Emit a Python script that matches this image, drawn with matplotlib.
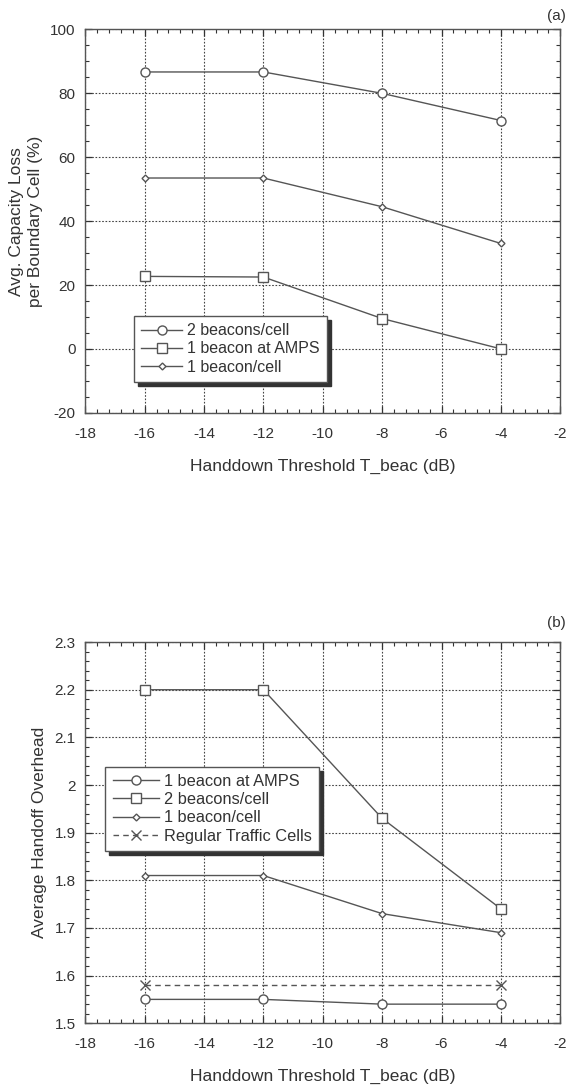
import matplotlib.pyplot as plt
from matplotlib.ticker import MultipleLocator, AutoMinorLocator

plt.rcParams['font.family'] = ['Liberation Sans', 'DejaVu Sans']
plt.rcParams['axes.unicode_minus'] = False

# x values shared by both panels (dB)
thresh = [-16, -12, -8, -4]

# panel (a): avg capacity loss per boundary cell (%)
a_two_beacons = [86.7, 86.7, 80.0, 71.5]
a_amps = [22.7, 22.5, 9.5, 0.0]
a_one_beacon = [53.5, 53.5, 44.5, 33.0]

# panel (b): average handoff overhead
b_amps = [1.55, 1.55, 1.54, 1.54]
b_two_beacons = [2.20, 2.20, 1.93, 1.74]
b_one_beacon = [1.81, 1.81, 1.73, 1.69]
regular_x = [-16, -4]
regular_y = [1.58, 1.58]

line_col = '#555555'
text_col = '#333333'

fig = plt.figure(figsize=(5.8, 10.92), dpi=100)
ax1 = fig.add_axes([0.147, 0.622, 0.819, 0.351])
ax2 = fig.add_axes([0.147, 0.063, 0.819, 0.349])


def style_axes(ax):
    ax.set_xlim(-18, -2)
    ax.xaxis.set_major_locator(MultipleLocator(2))
    ax.xaxis.set_minor_locator(AutoMinorLocator(5))
    ax.grid(True, which='major', linestyle=(0, (1.5, 1.5)), color='#444444', linewidth=0.8)
    ax.set_axisbelow(True)
    ax.tick_params(which='both', direction='in', top=True, right=True, colors=text_col,
                   labelsize=11)
    ax.tick_params(axis='x', which='major', pad=10)
    ax.tick_params(axis='y', which='major', pad=7)
    ax.tick_params(which='major', length=5, width=0.9)
    ax.tick_params(which='minor', length=3, width=0.8)
    for sp in ax.spines.values():
        sp.set_color(line_col)
        sp.set_linewidth(1.0)
    ax.set_xlabel('Handdown Threshold T_beac (dB)', fontsize=12.5, color=text_col, labelpad=13)


def style_legend(leg):
    leg.get_frame().set_edgecolor(line_col)
    leg.get_frame().set_linewidth(1.0)
    for t in leg.get_texts():
        t.set_color(text_col)


mk = dict(color=line_col, linewidth=1.0, markerfacecolor='white', markeredgecolor=line_col)
shadow = {'color': '#333333', 'alpha': 1.0, 'ox': 3, 'oy': -3}

# panel (a)
ax1.plot(thresh, a_two_beacons, marker='o', markersize=6.5, label='2 beacons/cell', **mk)
ax1.plot(thresh, a_amps, marker='s', markersize=6.5, label='1 beacon at AMPS', **mk)
ax1.plot(thresh, a_one_beacon, marker='D', markersize=3.5, label='1 beacon/cell', **mk)
style_axes(ax1)
ax1.set_ylim(-20, 100)
ax1.yaxis.set_major_locator(MultipleLocator(20))
ax1.yaxis.set_minor_locator(AutoMinorLocator(4))
ax1.set_ylabel('Avg. Capacity Loss\nper Boundary Cell (%)', fontsize=12.5, color=text_col,
               labelpad=5, linespacing=1.3)
leg1 = ax1.legend(loc='lower left', bbox_to_anchor=(0.085, 0.06), fontsize=11.5, frameon=True,
                  fancybox=False, shadow=shadow,
                  handlelength=2.6, handletextpad=0.3, borderpad=0.45, labelspacing=0.2)
style_legend(leg1)
fig.text(0.975, 0.992, '(a)', ha='right', va='top', fontsize=11, color=text_col)

# panel (b)
ax2.plot(thresh, b_amps, marker='o', markersize=6.5, label='1 beacon at AMPS', **mk)
ax2.plot(thresh, b_two_beacons, marker='s', markersize=6.5, label='2 beacons/cell', **mk)
ax2.plot(thresh, b_one_beacon, marker='D', markersize=3.5, label='1 beacon/cell', **mk)
ax2.plot(regular_x, regular_y, linestyle=(0, (4, 3)), marker='x', markersize=7,
         color=line_col, linewidth=1.0, label='Regular Traffic Cells')
style_axes(ax2)
ax2.set_ylim(1.5, 2.3)
ax2.yaxis.set_major_locator(MultipleLocator(0.1))
ax2.yaxis.set_minor_locator(AutoMinorLocator(5))
ax2.set_yticks([1.5, 1.6, 1.7, 1.8, 1.9, 2.0, 2.1, 2.2, 2.3])
ax2.set_yticklabels(['1.5', '1.6', '1.7', '1.8', '1.9', '2', '2.1', '2.2', '2.3'])
ax2.set_ylabel('Average Handoff Overhead', fontsize=12.5, color=text_col, labelpad=5)
leg2 = ax2.legend(loc='upper left', bbox_to_anchor=(0.025, 0.695), fontsize=11.8, frameon=True,
                  fancybox=False, shadow=shadow,
                  handlelength=2.8, handletextpad=0.3, borderpad=0.45, labelspacing=0.2)
style_legend(leg2)
fig.text(0.975, 0.436, '(b)', ha='right', va='top', fontsize=11, color=text_col)

fig.savefig('out.png', dpi=100, facecolor='white')
